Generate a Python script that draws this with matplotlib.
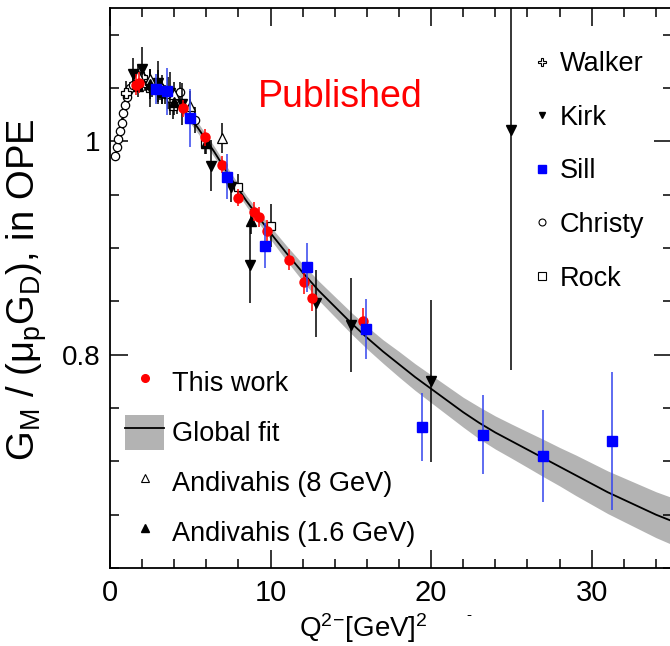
import matplotlib
matplotlib.use("Agg")
import matplotlib.pyplot as plt
from matplotlib.ticker import MultipleLocator, FixedLocator
from matplotlib.lines import Line2D
from matplotlib.patches import Patch

FONT = ['Liberation Sans', 'DejaVu Sans']
plt.rcParams['font.family'] = FONT
plt.rcParams['mathtext.fontset'] = 'custom'
plt.rcParams['mathtext.rm'] = 'Liberation Sans'
plt.rcParams['mathtext.it'] = 'Liberation Sans'
plt.rcParams['mathtext.bf'] = 'Liberation Sans'

# ---------------- data ----------------
fit_q2 = [0.3, 0.5, 0.75, 1.0, 1.25, 1.5, 2.0, 2.5, 3.0, 3.5, 4.0, 4.5, 5.0, 5.5, 6.0, 6.5,
          7.0, 7.5, 8.0, 8.5, 9.0, 9.5, 10, 11, 12, 13, 14, 15, 16, 17, 18, 19, 20, 21,
          22, 23, 24, 25, 26, 27, 28, 29, 30, 31, 32, 33, 34, 35]
fit_g = [0.985, 1.000, 1.018, 1.036, 1.048, 1.055, 1.058, 1.057, 1.053, 1.047, 1.040, 1.031,
         1.022, 1.012, 1.001, 0.990, 0.978, 0.966, 0.955, 0.944, 0.934, 0.924, 0.914, 0.895,
         0.877, 0.860, 0.845, 0.830, 0.816, 0.803, 0.791, 0.779, 0.768, 0.757, 0.746, 0.736,
         0.727, 0.719, 0.711, 0.703, 0.695, 0.687, 0.679, 0.671, 0.664, 0.657, 0.650, 0.644]
fit_band = [0.004, 0.004, 0.004, 0.004, 0.004, 0.004, 0.004, 0.004, 0.004, 0.004, 0.004, 0.004,
            0.005, 0.005, 0.005, 0.005, 0.005, 0.005, 0.005, 0.005, 0.0055, 0.0055, 0.006, 0.007,
            0.008, 0.009, 0.0095, 0.010, 0.0105, 0.011, 0.012, 0.0125, 0.013, 0.0135, 0.014, 0.015,
            0.0155, 0.016, 0.0167, 0.0175, 0.018, 0.019, 0.0195, 0.020, 0.0205, 0.021, 0.0215, 0.022]

this_q2 = [1.62, 1.82, 4.52, 5.93, 6.97, 7.97, 8.96, 9.29, 9.79, 11.16, 12.07, 12.57, 15.77]
this_g = [1.053, 1.055, 1.031, 1.004, 0.978, 0.947, 0.934, 0.929, 0.916, 0.889, 0.868, 0.853, 0.832]
this_e = [0.010, 0.010, 0.008, 0.008, 0.008, 0.008, 0.009, 0.009, 0.010, 0.010, 0.011, 0.012, 0.012]

sill_q2 = [2.86, 3.55, 4.98, 7.26, 9.65, 12.28, 15.97, 19.46, 23.25, 26.99, 31.24]
sill_g = [1.049, 1.047, 1.022, 0.967, 0.902, 0.882, 0.824, 0.732, 0.725, 0.705, 0.719]
sill_e = [0.014, 0.022, 0.027, 0.021, 0.021, 0.023, 0.028, 0.032, 0.037, 0.043, 0.065]

kirk_q2 = [1.45, 1.97, 2.5, 3.0, 3.75, 4.5, 6.26, 7.51, 8.71, 12.82, 15.04, 20.0, 25.0]
kirk_g = [1.063, 1.068, 1.050, 1.055, 1.045, 1.035, 0.977, 0.957, 0.884, 0.848, 0.828, 0.775, 1.011]
kirk_e = [0.015, 0.020, 0.018, 0.020, 0.020, 0.020, 0.024, 0.014, 0.036, 0.031, 0.044, 0.076, 0.225]

walker_q2 = [1.0, 2.0, 2.5, 3.0, 3.6]
walker_g = [1.045, 1.060, 1.055, 1.052, 1.045]
walker_e = [0.012, 0.012, 0.012, 0.015, 0.015]

christy_q2 = [0.31, 0.42, 0.52, 0.62, 0.73, 0.83, 0.93, 1.04, 1.15, 1.24, 1.45, 1.7, 2.2,
              2.6, 3.1, 3.4, 3.8, 4.15, 4.36, 5.3]
christy_g = [0.986, 0.995, 1.002, 1.010, 1.017, 1.027, 1.034, 1.042, 1.047, 1.050, 1.053, 1.058,
             1.055, 1.050, 1.048, 1.044, 1.040, 1.036, 1.046, 1.020]
christy_e = [0.004, 0.004, 0.004, 0.005, 0.005, 0.005, 0.005, 0.006, 0.006, 0.006, 0.007, 0.007,
             0.008, 0.008, 0.009, 0.009, 0.010, 0.010, 0.010, 0.012]

rock_q2 = [2.5, 3.25, 3.9, 5.0, 5.9, 7.98, 10.0]
rock_g = [1.050, 1.045, 1.033, 1.028, 0.998, 0.957, 0.921]
rock_e = [0.010, 0.010, 0.012, 0.012, 0.010, 0.012, 0.020]

and8_q2 = [1.75, 2.5, 3.25, 4.0, 4.98, 6.99]
and8_g = [1.062, 1.058, 1.050, 1.044, 1.033, 1.003]
and8_e = [0.010, 0.010, 0.012, 0.012, 0.014, 0.014]

and16_q2 = [1.75, 2.5, 3.25, 4.0, 6.0, 8.8]
and16_g = [1.052, 1.054, 1.047, 1.037, 0.998, 0.925]
and16_e = [0.010, 0.010, 0.012, 0.012, 0.010, 0.012]

# ---------------- figure ----------------
W, H = 670, 646
fig = plt.figure(figsize=(W / 100, H / 100), dpi=100)
ax = fig.add_axes([110 / W, 78 / H, 562 / W, 560 / H])

ax.fill_between(fit_q2, [g - b for g, b in zip(fit_g, fit_band)],
                [g + b for g, b in zip(fit_g, fit_band)], color='#b3b3b3', lw=0, zorder=1)
ax.plot(fit_q2, fit_g, color='black', lw=1.3, zorder=2)

ebkw = dict(capsize=0, elinewidth=1.1, linestyle='none')
ax.errorbar(christy_q2, christy_g, yerr=christy_e, fmt='o', ms=6, mfc='white', mec='black',
            mew=0.9, ecolor='black', zorder=3, **ebkw)
ax.errorbar(walker_q2, walker_g, yerr=walker_e, fmt='P', ms=7, mfc='white', mec='black',
            mew=0.9, ecolor='black', zorder=3, **ebkw)
ax.errorbar(rock_q2, rock_g, yerr=rock_e, fmt='s', ms=6, mfc='white', mec='black',
            mew=0.9, ecolor='black', zorder=3, **ebkw)
ax.errorbar(kirk_q2, kirk_g, yerr=kirk_e, fmt='v', ms=6.5, mfc='black', mec='black',
            ecolor='black', zorder=4, **ebkw)
ax.errorbar(and8_q2, and8_g, yerr=and8_e, fmt='^', ms=7, mfc='white', mec='black',
            mew=0.9, ecolor='black', zorder=4, **ebkw)
ax.errorbar(and16_q2, and16_g, yerr=and16_e, fmt='^', ms=6.5, mfc='black', mec='black',
            ecolor='black', zorder=4, **ebkw)
ax.errorbar(this_q2, this_g, yerr=this_e, fmt='o', ms=6.5, mfc='red', mec='red',
            ecolor='red', zorder=5, **ebkw)
ax.errorbar(sill_q2, sill_g, yerr=sill_e, fmt='s', ms=6.5, mfc='blue', mec='blue',
            ecolor='#3344ee', zorder=6, **ebkw)

ax.set_xlim(0, 35)
ax.set_ylim(0.6, 1.125)
ax.xaxis.set_major_locator(FixedLocator([0, 10, 20, 30]))
ax.xaxis.set_minor_locator(MultipleLocator(2))
ax.yaxis.set_major_locator(FixedLocator([0.8, 1.0]))
ax.yaxis.set_minor_locator(MultipleLocator(0.05))
ax.set_xticklabels(['0', '10', '20', '30'])
ax.set_yticklabels(['0.8', '1'])
ax.tick_params(which='both', direction='in', top=True, right=True, width=1.1)
ax.tick_params(which='major', length=13, labelsize=20, pad=7)
ax.tick_params(axis='x', which='major', labelsize=21, pad=8)
ax.tick_params(which='minor', length=6.5)
for s in ax.spines.values():
    s.set_linewidth(1.3)

# legends
leg_fs = 19.5
right_handles = [
    Line2D([], [], ls='none', marker='P', ms=6, mfc='white', mec='black', mew=0.8),
    Line2D([], [], ls='none', marker='v', ms=5, color='black'),
    Line2D([], [], ls='none', marker='s', ms=5.5, color='blue'),
    Line2D([], [], ls='none', marker='o', ms=5, mfc='white', mec='black', mew=0.8),
    Line2D([], [], ls='none', marker='s', ms=5.5, mfc='white', mec='black', mew=0.8),
]
right_labels = ['Walker', 'Kirk', 'Sill', 'Christy', 'Rock']
leg2 = ax.legend(right_handles, right_labels, loc='upper left',
                 bbox_to_anchor=(534 / W, 1 - 51 / H), bbox_transform=fig.transFigure,
                 frameon=False, fontsize=leg_fs, borderpad=0, borderaxespad=0,
                 handlelength=0.6, handletextpad=0.35, labelspacing=1.02)
ax.add_artist(leg2)

left_handles = [
    Line2D([], [], ls='none', marker='o', ms=5.5, color='red'),
    (Patch(facecolor='#b3b3b3', edgecolor='none'), Line2D([], [], color='black', lw=1.3)),
    Line2D([], [], ls='none', marker='^', ms=5.5, mfc='white', mec='black', mew=0.8),
    Line2D([], [], ls='none', marker='^', ms=5.5, color='black'),
]
left_labels = ['This work', 'Global fit', 'Andivahis (8 GeV)', 'Andivahis (1.6 GeV)']
leg1 = ax.legend(left_handles, left_labels, loc='upper left',
                 bbox_to_anchor=(125 / W, 1 - 365 / H), bbox_transform=fig.transFigure,
                 frameon=False, fontsize=leg_fs, borderpad=0, borderaxespad=0,
                 handlelength=1.45, handleheight=1.6, handletextpad=0.3, labelspacing=0.56)

fig.text(340 / W, 1 - 97 / H, 'Published', color='red', fontsize=27,
         ha='center', va='center')

fig.text(27 / W, 1 - 290 / H, r'G$_{\rm M}$ / (μ$_{\rm p}$G$_{\rm D}$), in OPE',
         rotation=90, fontsize=27.5, ha='center', va='center')

fig.text(363 / W, 1 - 628 / H, r'Q$^{2}$$^{-}$[GeV]$^{2}$', fontsize=20,
         ha='center', va='center')
fig.text(469 / W, 1 - 615 / H, '-', fontsize=11, ha='center', va='center')

fig.savefig('out.png', dpi=100)
